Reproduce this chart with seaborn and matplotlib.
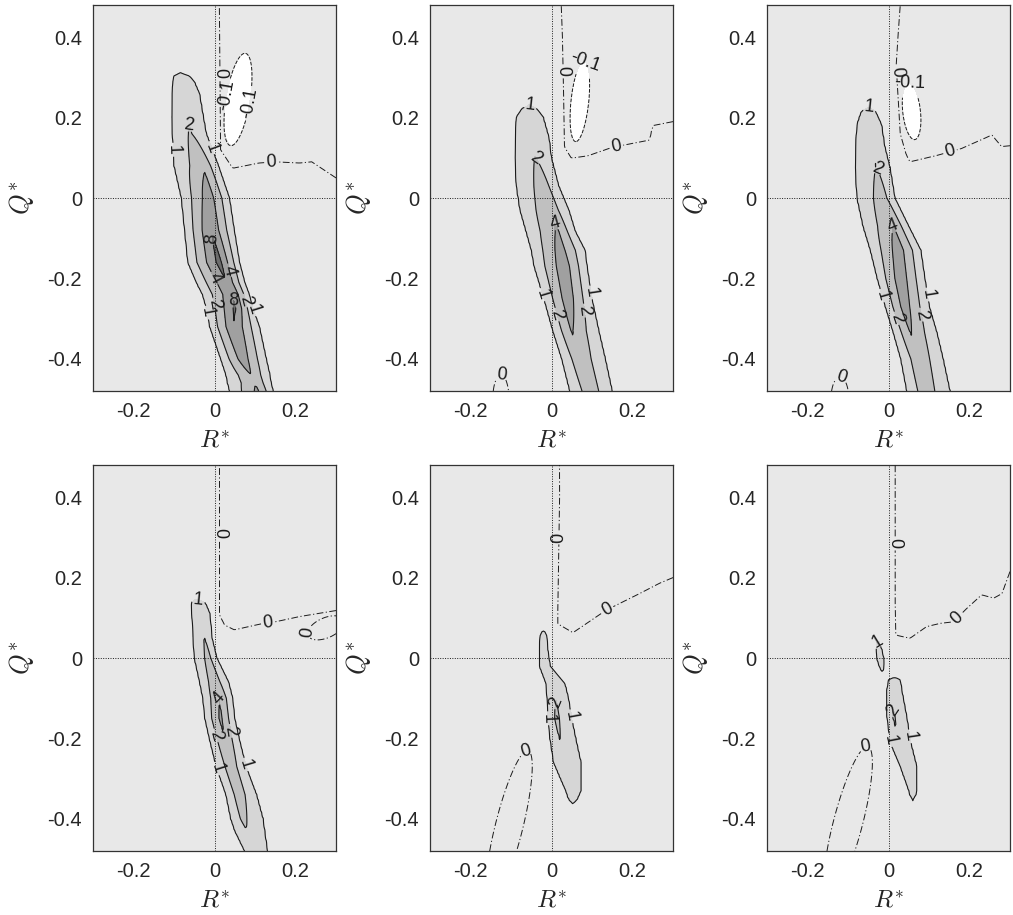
import numpy as np
import matplotlib
matplotlib.use("Agg")
import matplotlib.pyplot as plt
import seaborn as sns

# ---------------- ridge knots (per panel): Q, ridge centre R, peak value, R of "1" contour left / right
P1_Q = [0.40, 0.315, 0.29, 0.26, 0.20, 0.16, 0.08, 0.0, -0.08, -0.16, -0.21, -0.24, -0.275, -0.32, -0.40, -0.44, -0.46, -0.48]
P1_C = [-0.085, -0.085, -0.08, -0.07, -0.065, -0.06, -0.027, -0.014, -0.009, 0.012, 0.03, 0.045, 0.05, 0.048, 0.07, 0.09, 0.10, 0.105]
P1_PK = [0.3, 0.9, 1.3, 1.7, 1.9, 2.1, 3.5, 6.0, 7.8, 10.0, 7.6, 7.7, 9.0, 7.7, 5.8, 3.9, 3.8, 4.6]
P1_L1 = [-0.10, -0.10, -0.103, -0.104, -0.105, -0.104, -0.10, -0.082, -0.074, -0.066, -0.045, -0.03, -0.02, -0.012, 0.015, 0.028, 0.032, 0.037]
P1_R1 = [-0.07, -0.07, -0.05, -0.037, -0.027, -0.02, 0.01, 0.037, 0.049, 0.062, 0.075, 0.086, 0.095, 0.111, 0.128, 0.137, 0.14, 0.145]

P2_Q = [0.30, 0.229, 0.20, 0.15, 0.10, 0.03, -0.03, -0.083, -0.13, -0.17, -0.25, -0.33, -0.40, -0.48]
P2_C = [-0.054, -0.054, -0.055, -0.05, -0.04, -0.02, -0.005, 0.015, 0.022, 0.03, 0.04, 0.05, 0.07, 0.095]
P2_PK = [0.3, 1.0, 1.4, 1.7, 2.0, 2.8, 3.4, 4.4, 5.4, 6.2, 6.0, 4.2, 3.3, 3.0]
P2_L1 = [-0.07, -0.07, -0.087, -0.089, -0.09, -0.087, -0.078, -0.063, -0.05, -0.043, -0.019, 0.003, 0.025, 0.045]
P2_R1 = [-0.04, -0.04, -0.02, -0.006, 0.0, 0.018, 0.043, 0.059, 0.083, 0.088, 0.10, 0.117, 0.133, 0.15]

P3_Q = [0.26, 0.223, 0.182, 0.128, 0.075, 0.0, -0.07, -0.13, -0.20, -0.27, -0.336, -0.40, -0.48]
P3_C = [-0.05, -0.049, -0.045, -0.04, -0.03, -0.015, 0.012, 0.025, 0.03, 0.04, 0.055, 0.075, 0.09]
P3_PK = [0.4, 1.0, 1.5, 1.8, 2.0, 2.8, 4.0, 5.8, 6.2, 5.6, 4.1, 3.3, 3.0]
P3_L1 = [-0.07, -0.065, -0.078, -0.081, -0.082, -0.078, -0.063, -0.045, -0.028, -0.008, 0.012, 0.03, 0.045]
P3_R1 = [-0.03, -0.035, -0.017, -0.009, 0.004, 0.016, 0.05, 0.08, 0.09, 0.101, 0.12, 0.135, 0.152]

P4_Q = [0.17, 0.144, 0.11, 0.05, 0.0, -0.06, -0.10, -0.15, -0.20, -0.27, -0.34, -0.40, -0.43, -0.48]
P4_C = [-0.045, -0.045, -0.035, -0.025, -0.015, 0.0, 0.012, 0.015, 0.025, 0.04, 0.06, 0.07, 0.08, 0.10]
P4_PK = [0.4, 1.0, 1.5, 2.0, 2.5, 3.0, 4.0, 4.6, 3.8, 3.0, 2.8, 2.3, 1.9, 1.6]
P4_L1 = [-0.058, -0.058, -0.056, -0.053, -0.05, -0.037, -0.029, -0.024, -0.013, 0.004, 0.028, 0.04, 0.05, 0.074]
P4_R1 = [-0.02, -0.025, -0.011, -0.006, 0.006, 0.035, 0.045, 0.05, 0.061, 0.078, 0.104, 0.12, 0.124, 0.131]

P5_Q = [0.09, 0.065, 0.02, -0.02, -0.063, -0.10, -0.15, -0.20, -0.26, -0.33, -0.36, -0.40]
P5_C = [-0.02, -0.02, -0.02, -0.015, 0.005, 0.01, 0.012, 0.02, 0.035, 0.055, 0.053, 0.06]
P5_PK = [0.4, 1.0, 1.3, 1.4, 1.6, 2.0, 2.3, 2.0, 1.7, 1.4, 1.0, 0.5]
P5_L1 = [-0.03, -0.03, -0.03, -0.03, -0.014, -0.011, -0.009, -0.004, 0.005, 0.035, 0.045, 0.05]
P5_R1 = [-0.01, -0.01, -0.009, -0.003, 0.033, 0.042, 0.05, 0.06, 0.073, 0.073, 0.06, 0.07]

P6_Q = [0.07, 0.04, 0.0, -0.034, -0.042, -0.05, -0.08, -0.145, -0.21, -0.27, -0.33, -0.35, -0.40]
P6_C = [-0.025, -0.025, -0.02, -0.015, 0.0, 0.015, 0.014, 0.012, 0.025, 0.045, 0.06, 0.06, 0.06]
P6_PK = [0.5, 1.0, 1.25, 1.0, 0.8, 1.0, 1.6, 2.15, 1.8, 1.6, 1.3, 1.0, 0.5]
P6_L1 = [-0.035, -0.033, -0.029, -0.02, -0.01, 0.0, -0.004, -0.004, 0.004, 0.029, 0.05, 0.055, 0.05]
P6_R1 = [-0.015, -0.02, -0.012, -0.01, 0.01, 0.029, 0.033, 0.045, 0.055, 0.07, 0.07, 0.065, 0.07]

# ---------------- zero contour: vertical branch (Q, R) and horizontal branch (R, Q)
P1_ZV_Q = [0.12, 0.48]
P1_ZV_R = [0.015, 0.012]
P1_ZH_R = [0.015, 0.045, 0.11, 0.15, 0.21, 0.24, 0.30]
P1_ZH_Q = [0.12, 0.074, 0.087, 0.09, 0.087, 0.09, 0.05]

P2_ZV_Q = [0.13, 0.25, 0.40, 0.48]
P2_ZV_R = [0.032, 0.03, 0.027, 0.024]
P2_ZH_R = [0.032, 0.049, 0.09, 0.15, 0.242, 0.25, 0.30]
P2_ZH_Q = [0.127, 0.099, 0.105, 0.126, 0.144, 0.18, 0.19]

P3_ZV_Q = [0.107, 0.16, 0.33, 0.41, 0.48]
P3_ZV_R = [0.044, 0.029, 0.019, 0.024, 0.029]
P3_ZH_R = [0.044, 0.053, 0.12, 0.18, 0.245, 0.255, 0.279, 0.30]
P3_ZH_Q = [0.107, 0.09, 0.106, 0.123, 0.152, 0.157, 0.128, 0.13]

P4_ZV_Q = [0.107, 0.48]
P4_ZV_R = [0.0123, 0.0123]
P4_ZH_R = [0.0123, 0.025, 0.049, 0.12, 0.15, 0.21, 0.30]
P4_ZH_Q = [0.107, 0.082, 0.07, 0.086, 0.09, 0.103, 0.118]

P5_ZV_Q = [0.085, 0.12, 0.40, 0.48]
P5_ZV_R = [0.0156, 0.0156, 0.02, 0.0198]
P5_ZH_R = [0.0156, 0.053, 0.135, 0.217, 0.267, 0.30]
P5_ZH_Q = [0.085, 0.063, 0.119, 0.16, 0.186, 0.2]

P6_ZV_Q = [0.057, 0.137, 0.48]
P6_ZV_R = [0.018, 0.0165, 0.0165]
P6_ZH_R = [0.018, 0.053, 0.094, 0.127, 0.16, 0.193, 0.23, 0.26, 0.28, 0.30]
P6_ZH_Q = [0.057, 0.049, 0.078, 0.086, 0.09, 0.123, 0.157, 0.149, 0.16, 0.215]

# ---------------- closed regions: -0.1 pockets and extra zero loops (R centre, Q centre, R half, Q half, tilt)
P1_POCKET = [0.058, 0.245, 0.03, 0.115, 0.15]
P2_POCKET = [0.07, 0.24, 0.022, 0.10, 0.10]
P3_POCKET = [0.057, 0.215, 0.022, 0.07, -0.10]
P2_LOOPS = [[-0.125, -0.50, 0.02, 0.06, 0.0]]
P3_LOOPS = [[-0.12, -0.50, 0.022, 0.055, 0.0]]
P4_LOOPS = [[0.275, 0.075, 0.04, 0.03, 0.7]]
P5_LOOPS = [[-0.105, -0.42, 0.035, 0.19, 0.24]]
P6_LOOPS = [[-0.10, -0.41, 0.037, 0.19, 0.25]]

X_TICKS = [-0.2, 0.0, 0.2]
X_TICKLABELS = ["-0.2", "0", "0.2"]
Y_TICKS = [-0.4, -0.2, 0.0, 0.2, 0.4]
Y_TICKLABELS = ["-0.4", "-0.2", "0", "0.2", "0.4"]
FILL_LEVELS = [-10.0, -0.1, 1, 2, 4, 8, 100.0]
LINE_LEVELS = [1, 2, 4, 8]

PANELS = [
    (P1_Q, P1_C, P1_PK, P1_L1, P1_R1, P1_ZV_Q, P1_ZV_R, P1_ZH_R, P1_ZH_Q, P1_POCKET, []),
    (P2_Q, P2_C, P2_PK, P2_L1, P2_R1, P2_ZV_Q, P2_ZV_R, P2_ZH_R, P2_ZH_Q, P2_POCKET, P2_LOOPS),
    (P3_Q, P3_C, P3_PK, P3_L1, P3_R1, P3_ZV_Q, P3_ZV_R, P3_ZH_R, P3_ZH_Q, P3_POCKET, P3_LOOPS),
    (P4_Q, P4_C, P4_PK, P4_L1, P4_R1, P4_ZV_Q, P4_ZV_R, P4_ZH_R, P4_ZH_Q, None, P4_LOOPS),
    (P5_Q, P5_C, P5_PK, P5_L1, P5_R1, P5_ZV_Q, P5_ZV_R, P5_ZH_R, P5_ZH_Q, None, P5_LOOPS),
    (P6_Q, P6_C, P6_PK, P6_L1, P6_R1, P6_ZV_Q, P6_ZV_R, P6_ZH_R, P6_ZH_Q, None, P6_LOOPS),
]

sns.set_theme(style="white")
plt.rcParams["font.family"] = ["Liberation Sans", "DejaVu Sans"]
plt.rcParams["mathtext.fontset"] = "cm"
plt.rcParams["axes.unicode_minus"] = False

R_GRID = np.linspace(-0.3, 0.3, 151)
Q_GRID = np.linspace(-0.48, 0.48, 193)
RR, QQ = np.meshgrid(R_GRID, Q_GRID)


def interp_q(qk, vals):
    qk = np.asarray(qk, float)
    order = np.argsort(qk)
    return np.interp(Q_GRID, qk[order], np.asarray(vals, float)[order])[:, None]


def ridge(qk, ck, pk, lk, rk):
    c = interp_q(qk, ck)
    p = interp_q(qk, pk)
    l1 = interp_q(qk, lk)
    r1 = interp_q(qk, rk)
    lnp = np.log(np.maximum(p, 1e-3))
    s = np.maximum(lnp, np.log(1.15))
    left = RR < c
    t = np.where(left, (c - RR) / (c - l1), (RR - c) / (r1 - c))
    beyond = np.where(left, np.maximum(l1 - RR, 0), np.maximum(RR - r1, 0))
    return np.exp(lnp - s * t - beyond / 0.012)


def ellipse_r(cx, cy, a, b, k):
    v = (RR - cx - k * (QQ - cy)) / a
    u = (QQ - cy) / b
    return np.sqrt(u ** 2 + v ** 2)


def background(zvq, zvr, zhr, zhq, pocket, loops):
    rv = np.interp(QQ, zvq, zvr)
    qh = np.interp(RR, zhr, zhq)
    d = -np.minimum((RR - rv) / 0.01, (QQ - qh) / 0.01)
    for lp in loops:
        d = np.minimum(d, 3 * (ellipse_r(*lp) - 1))
    s = 0.05 * np.tanh(d)
    if pocket is not None:
        r = ellipse_r(*pocket)
        s = np.minimum(s, -0.1 + 0.2 * (r ** 2 - 1))
    return s


def matlab_labels(ax, cs, spacing=175.0, minlen=18.0):
    pos = []
    for segs in cs.allsegs:
        for seg in segs:
            if len(seg) < 3:
                continue
            d = ax.transData.transform(seg)
            L = np.r_[0.0, np.cumsum(np.hypot(*np.diff(d, axis=0).T))]
            tot = L[-1]
            if tot < minlen:
                continue
            n = max(1, int(round(tot / spacing)))
            for k in range(n):
                j = min(int(np.searchsorted(L, (k + 0.5) * tot / n)), len(seg) - 1)
                pos.append((float(seg[j][0]), float(seg[j][1])))
    if pos:
        ax.clabel(cs, fmt="%g", fontsize=13, inline=True, inline_spacing=2, manual=pos)


fig = plt.figure(figsize=(10.13, 9.15), dpi=100)
lefts = [93, 430, 767]
bottoms = [391, 851]
fill_colors = ["#ffffff", "#e8e8e8", "#d6d6d6", "#c0c0c0", "#a0a0a0", "#6c6c6c"]
dashdot = [(0, (7, 2.5, 1.2, 2.5))]

for i, pan in enumerate(PANELS):
    qk, ck, pk, lk, rk, zvq, zvr, zhr, zhq, pocket, loops = pan
    row, col = divmod(i, 3)
    ax = fig.add_axes([lefts[col] / 1013, 1 - bottoms[row] / 915, 243 / 1013, 386 / 915])
    ax.set_xlim(-0.3, 0.3)
    ax.set_ylim(-0.48, 0.48)
    F = ridge(qk, ck, pk, lk, rk)
    S = background(zvq, zvr, zhr, zhq, pocket, loops)
    Z = F + S
    ax.contourf(RR, QQ, Z, levels=FILL_LEVELS, colors=fill_colors)
    ax.axhline(0, color="k", ls=(0, (1, 1.5)), lw=0.7, zorder=2)
    ax.axvline(0, color="k", ls=(0, (1, 1.5)), lw=0.7, zorder=2)
    cs = ax.contour(RR, QQ, Z, levels=LINE_LEVELS, colors="k", linewidths=0.8, zorder=3)
    matlab_labels(ax, cs)
    cz = ax.contour(RR, QQ, S, levels=[0], colors="k", linewidths=0.7, linestyles=dashdot, zorder=3)
    matlab_labels(ax, cz)
    if pocket is not None:
        cn = ax.contour(RR, QQ, S, levels=[-0.1], colors="k", linewidths=0.7, linestyles="--", zorder=3)
        matlab_labels(ax, cn, spacing=120.0)
    ax.set_xlim(-0.3, 0.3)
    ax.set_ylim(-0.48, 0.48)
    ax.set_xticks(X_TICKS)
    ax.set_xticklabels(X_TICKLABELS)
    ax.set_yticks(Y_TICKS)
    ax.set_yticklabels(Y_TICKLABELS)
    ax.tick_params(direction="in", length=5, width=0.8, top=True, right=True,
                   labelsize=14.5, pad=8, colors="#262626")
    for sp in ax.spines.values():
        sp.set_color("#333333")
        sp.set_linewidth(0.9)
    ax.set_xlabel(r"$R^{*}$", fontsize=18, labelpad=5)
    ax.set_ylabel(r"$Q^{*}$", fontsize=19, labelpad=8)

fig.savefig("out.png", dpi=100)
